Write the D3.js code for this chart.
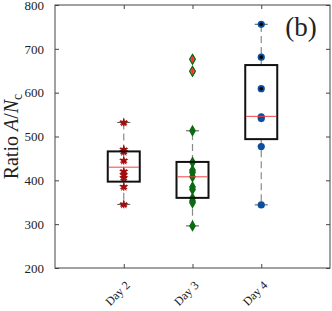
<!DOCTYPE html>
<html>
<head>
<meta charset="utf-8">
<script src="https://d3js.org/d3.v7.min.js"></script>
<style>
  body { margin: 0; background: #fff; }
  text { font-family: "Liberation Serif", "DejaVu Serif", serif; fill: #222; }
</style>
</head>
<body>
<script>
// values
var days = ["Day 2", "Day 3", "Day 4"];
var yTicks = [200, 300, 400, 500, 600, 700, 800];

var day2Pts = [532, 470, 465, 445, 420, 412, 405, 385, 345];
var day3Pts = [676, 649, 513, 441, 423, 418, 408, 385, 379, 359, 353, 349, 296];
var day4Pts = [756, 681, 609, 545, 541, 477, 344];
var day4Marked = [756, 681, 609];
var day3Outliers = [676, 649];

// box stats per day
var q1 = [397, 360, 494];
var med = [430, 408, 546];
var q3 = [466, 442, 663];
var whiskLo = [345, 296, 344];
var whiskHi = [532, 513, 756];

var W = 332, H = 311;
var pL = 55, pR = 330, pT = 5, pB = 268;

var svg = d3.select("body").append("svg")
    .attr("width", W).attr("height", H);

var x = d3.scalePoint().domain(days).range([pL, pR]).padding(1);
var y = d3.scaleLinear().domain([200, 800]).range([pB, pT]);

var axisColor = "#444";

// frame + inward ticks on all four sides
svg.append("rect")
    .attr("x", pL).attr("y", pT)
    .attr("width", pR - pL).attr("height", pB - pT)
    .attr("fill", "none").attr("stroke", axisColor).attr("stroke-width", 1);

var gl = svg.append("g").attr("transform", "translate(" + pL + ",0)")
    .call(d3.axisLeft(y).tickValues(yTicks).tickSize(-4).tickPadding(11));
var gr = svg.append("g").attr("transform", "translate(" + pR + ",0)")
    .call(d3.axisRight(y).tickValues(yTicks).tickSize(-4).tickFormat(""));
var gb = svg.append("g").attr("transform", "translate(0," + pB + ")")
    .call(d3.axisBottom(x).tickSize(-4).tickFormat(""));
var gt = svg.append("g").attr("transform", "translate(0," + pT + ")")
    .call(d3.axisTop(x).tickSize(-4).tickFormat(""));

[gl, gr, gb, gt].forEach(function(g) {
  g.select(".domain").remove();
  g.selectAll(".tick line").attr("stroke", axisColor);
});
gl.selectAll(".tick text")
    .style("font-size", "13px")
    .style("font-family", "Liberation Serif, serif")
    .attr("fill", "#222");

// rotated day labels
svg.selectAll(".daylabel").data(days).enter().append("text")
    .attr("class", "daylabel")
    .attr("transform", function(d) {
      return "translate(" + (x(d) + 4) + "," + (pB + 15) + ") rotate(-45)";
    })
    .attr("text-anchor", "end")
    .attr("dy", "0.35em")
    .style("font-size", "12px")
    .text(function(d) { return d; });

// y axis title
var yt = svg.append("text")
    .attr("transform", "translate(18," + ((pT + pB) / 2) + ") rotate(-90)")
    .attr("text-anchor", "middle")
    .style("font-size", "20px");
yt.append("tspan").text("Ratio ");
yt.append("tspan").style("font-style", "italic").text("A");
yt.append("tspan").text("/");
yt.append("tspan").style("font-style", "italic").text("N");
yt.append("tspan").attr("dy", "4").style("font-size", "14px").text("c");

// panel tag
svg.append("text")
    .attr("x", 301).attr("y", 36)
    .attr("text-anchor", "middle")
    .style("font-size", "27px")
    .text("(b)");

var boxW = 32, capW = 13;
var plot = svg.append("g");

// whiskers
days.forEach(function(d, i) {
  plot.append("line")
      .attr("x1", x(d)).attr("x2", x(d))
      .attr("y1", y(q3[i])).attr("y2", y(whiskHi[i]))
      .attr("stroke", "#8a8a8a").attr("stroke-width", 1.2)
      .attr("stroke-dasharray", "7,4");
  plot.append("line")
      .attr("x1", x(d)).attr("x2", x(d))
      .attr("y1", y(q1[i])).attr("y2", y(whiskLo[i]))
      .attr("stroke", "#8a8a8a").attr("stroke-width", 1.2)
      .attr("stroke-dasharray", "7,4");
  [whiskLo[i], whiskHi[i]].forEach(function(v) {
    plot.append("line")
        .attr("x1", x(d) - capW / 2).attr("x2", x(d) + capW / 2)
        .attr("y1", y(v)).attr("y2", y(v))
        .attr("stroke", "#555").attr("stroke-width", 1);
  });
});

// points
var star = d3.symbol().type(d3.symbolStar).size(28);
var aster = d3.symbol().type(d3.symbolAsterisk).size(42);
var diamond = d3.symbol().type(d3.symbolDiamond).size(26);

plot.selectAll(".p2").data(day2Pts).enter().append("path")
    .attr("transform", function(v) { return "translate(" + x("Day 2") + "," + y(v) + ")"; })
    .attr("d", star).attr("fill", "#a30d0d");
plot.selectAll(".p2a").data(day2Pts).enter().append("path")
    .attr("transform", function(v) { return "translate(" + x("Day 2") + "," + y(v) + ")"; })
    .attr("d", aster).attr("fill", "none").attr("stroke", "#a30d0d").attr("stroke-width", 1.2);

plot.selectAll(".p3").data(day3Pts).enter().append("path")
    .attr("transform", function(v) { return "translate(" + x("Day 3") + "," + y(v) + ")"; })
    .attr("d", diamond).attr("fill", "#0b6b12").attr("stroke", "#0b6b12").attr("stroke-width", 1.2);

plot.selectAll(".p4").data(day4Pts).enter().append("circle")
    .attr("cx", x("Day 4")).attr("cy", function(v) { return y(v); })
    .attr("r", 3.6).attr("fill", "#0b4f9e");
plot.selectAll(".p4m").data(day4Marked).enter().append("circle")
    .attr("cx", x("Day 4")).attr("cy", function(v) { return y(v); })
    .attr("r", 1.8).attr("fill", "#000");

// outliers on day 3: lighter fill with red plus
plot.selectAll(".o3").data(day3Outliers).enter().append("path")
    .attr("transform", function(v) { return "translate(" + x("Day 3") + "," + y(v) + ")"; })
    .attr("d", diamond).attr("fill", "#9a9a50").attr("stroke", "#0b6b12").attr("stroke-width", 1.2);
day3Outliers.forEach(function(v) {
  plot.append("path")
      .attr("d", "M" + (x("Day 3") - 3) + "," + y(v) + "h6M" + x("Day 3") + "," + (y(v) - 3) + "v6")
      .attr("stroke", "#f03030").attr("stroke-width", 1.2);
});

// boxes and medians
days.forEach(function(d, i) {
  plot.append("rect")
      .attr("x", x(d) - boxW / 2).attr("y", y(q3[i]))
      .attr("width", boxW).attr("height", y(q1[i]) - y(q3[i]))
      .attr("fill", "none").attr("stroke", "#111").attr("stroke-width", 2);
  plot.append("line")
      .attr("x1", x(d) - boxW / 2 + 1).attr("x2", x(d) + boxW / 2 - 1)
      .attr("y1", y(med[i])).attr("y2", y(med[i]))
      .attr("stroke", "#f04040").attr("stroke-width", 1);
});
</script>
</body>
</html>
